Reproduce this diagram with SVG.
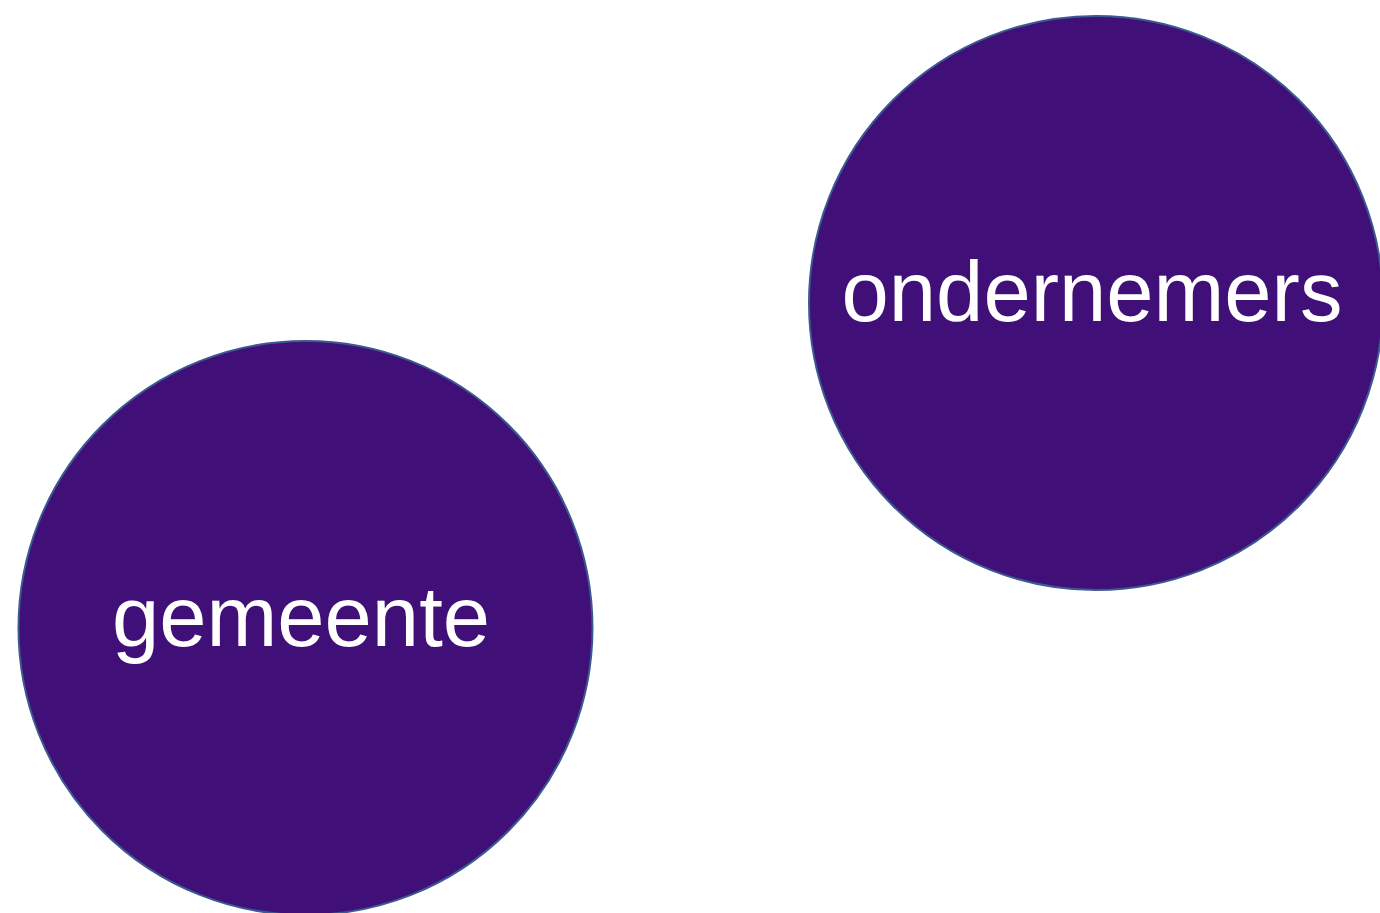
<svg xmlns="http://www.w3.org/2000/svg" width="1380" height="913" viewBox="0 0 1380 913">
<style>
.node{fill:#410f78;stroke:#3b5a91;stroke-width:2}
.lbl{font-family:"Liberation Sans",Arial,sans-serif;font-size:85px;fill:#ffffff;text-anchor:middle}
</style>
<rect width="1380" height="913" fill="#ffffff"/>
<g id="connectors"></g>
<g id="gemeente">
<circle class="node" cx="305.5" cy="628" r="287"/>
<text class="lbl" x="301" y="646">gemeente</text>
</g>
<g id="ondernemers">
<circle class="node" cx="1096" cy="303" r="287"/>
<text class="lbl" x="1092" y="321">ondernemers</text>
</g>
</svg>
